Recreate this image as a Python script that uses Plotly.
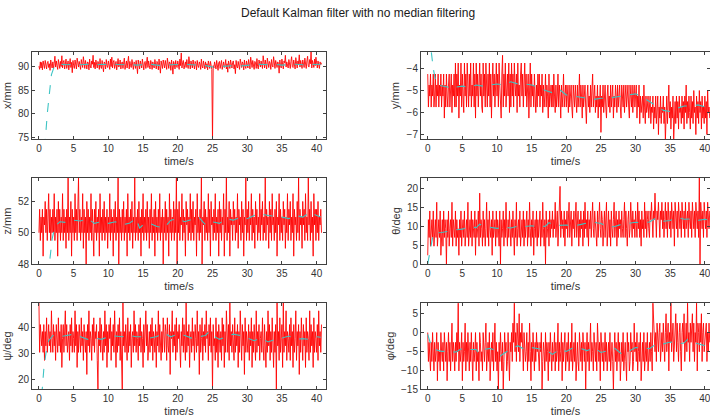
import numpy as np
import plotly.graph_objects as go

# ---- raw measurements, sampled every 0.1 s ----
DT = 0.1

x_raw = [
    90.1, 89.4, 91.0, 89.7, 90.9, 89.3, 91.2, 90.0, 89.6, 91.3, 90.4, 89.5, 90.8, 91.1, 89.8, 90.6, 89.2, 91.4, 90.3, 89.7,
    91.0, 89.5, 90.7, 92.2, 89.9, 91.2, 90.2, 89.4, 91.5, 90.6, 89.6, 91.1, 90.0, 92.3, 89.7, 90.9, 91.3, 89.5, 90.4, 91.6,
    89.6, 90.8, 91.2, 89.3, 90.5, 91.7, 89.8, 90.9, 88.7, 91.3, 90.2, 89.6, 91.4, 90.1, 89.5, 91.8, 90.6, 89.9, 91.1, 90.3,
    89.4, 91.5, 90.7, 89.8, 92.1, 90.2, 89.6, 91.3, 90.4, 89.5, 91.0, 90.8, 89.3, 91.6, 90.1, 89.7, 91.2, 90.5, 92.4, 89.8,
    90.9, 89.5, 91.4, 90.2, 89.7, 91.1, 90.6, 89.4, 91.7, 90.0, 89.6, 91.3, 90.4, 88.9, 91.0, 90.7, 89.5, 91.5, 90.2, 89.8,
    91.2, 90.4, 89.4, 91.6, 90.0, 92.0, 89.7, 90.9, 91.3, 89.6, 90.5, 91.1, 89.3, 90.8, 91.7, 89.9, 90.3, 91.4, 89.5, 90.7,
    91.0, 89.6, 90.4, 91.8, 89.4, 90.9, 91.2, 89.7, 90.6, 92.2, 89.5, 91.1, 90.2, 89.8, 91.5, 90.3, 89.4, 91.0, 90.8, 89.6,
    91.3, 90.1, 88.5, 91.4, 90.6, 89.5, 91.2, 90.0, 89.7, 91.6, 90.4, 89.3, 90.9, 91.1, 89.6, 90.5, 92.0, 89.8, 91.2, 90.2,
    89.5, 91.3, 90.7, 89.4, 91.0, 90.2, 89.7, 91.5, 90.4, 89.5, 91.1, 90.8, 89.3, 91.6, 90.0, 88.6, 91.2, 90.5, 89.6, 91.4,
    90.1, 89.7, 91.3, 90.4, 89.4, 91.8, 90.2, 89.6, 91.0, 90.7, 89.2, 91.4, 90.3, 88.4, 91.1, 90.6, 89.5, 91.3, 90.0, 89.8,
    91.2, 90.5, 89.4, 91.6, 90.2, 92.9, 89.7, 90.8, 91.3, 89.5, 90.6, 91.0, 89.8, 91.5, 90.3, 89.6, 92.1, 90.1, 89.5, 91.2,
    90.4, 89.7, 91.4, 90.0, 89.5, 91.1, 90.7, 89.3, 91.3, 90.2, 89.8, 91.0, 90.5, 89.4, 91.6, 90.1, 89.7, 91.2, 90.3, 89.5,
    91.0, 89.8, 90.6, 89.3, 91.2, 90.0, 89.6, 91.1, 90.4, 89.4, 74.4, 90.2, 89.7, 91.0, 90.3, 89.5, 91.3, 90.1, 89.2, 90.8,
    91.1, 89.6, 90.4, 91.3, 89.4, 90.7, 91.0, 89.8, 90.2, 91.5, 89.5, 90.6, 88.8, 91.2, 90.1, 89.6, 91.4, 90.3, 89.7, 90.9,
    91.2, 89.5, 90.4, 88.5, 91.3, 90.0, 89.7, 91.1, 90.5, 89.4, 91.6, 90.2, 89.8, 91.0, 90.6, 89.3, 91.4, 90.1, 89.6, 91.2,
    90.3, 89.7, 91.5, 90.4, 89.5, 92.0, 90.2, 89.8, 91.3, 90.6, 89.4, 91.1, 90.8, 89.6, 91.7, 90.0, 89.5, 91.4, 90.7, 89.9,
    91.2, 90.4, 89.6, 92.3, 90.1, 89.7, 91.4, 90.6, 89.5, 91.8, 90.2, 89.8, 91.1, 90.7, 89.4, 91.5, 90.3, 89.9, 92.1, 90.5,
    89.6, 91.3, 90.4, 89.8, 91.0, 90.6, 88.6, 91.4, 90.2, 89.7, 91.6, 90.5, 89.5, 91.2, 90.8, 92.4, 89.9, 91.0, 90.3, 89.7,
    91.5, 90.4, 89.6, 91.1, 92.1, 90.0, 89.8, 91.4, 90.7, 89.5, 91.9, 90.3, 89.7, 91.2, 90.6, 92.5, 89.9, 91.3, 90.2, 89.6,
    91.4, 90.7, 89.8, 91.8, 90.3, 89.6, 91.2, 92.2, 90.1, 89.9, 91.5, 90.6, 93.2, 89.7, 91.3, 90.4, 89.8, 91.6, 90.2, 92.0,
    90.5, 89.7, 91.2, 90.3, 89.6, 91.0, 90.4, 90.8,
]

y_raw = [
    -4.25, -5.75, -4.75, -5.25, -4.25, -5.75, -4.75, -5.25, -4.25, -5.75, -5.25, -4.25, -5.75, -4.75, -5.25, -4.25, -5.75, -4.75, -5.25, -4.25,
    -5.75, -4.75, -5.25, -4.25, -6.25, -4.75, -5.75, -4.25, -5.25, -5.75, -4.75, -4.25, -5.75, -5.25, -4.25, -6.0, -4.75, -5.25, -4.25, -5.75,
    -3.75, -5.75, -4.25, -5.25, -3.75, -6.25, -4.75, -5.25, -3.75, -5.75, -4.25, -5.25, -6.0, -3.75, -5.25, -4.25, -5.75, -3.75, -4.75, -5.75,
    -4.25, -5.25, -3.75, -5.75, -4.75, -5.25, -3.75, -5.75, -4.25, -6.25, -3.75, -5.25, -4.25, -5.75, -4.75, -3.75, -5.25, -4.25, -5.75, -6.0,
    -3.75, -5.25, -4.25, -5.75, -3.75, -4.75, -5.75, -4.25, -5.25, -3.75, -5.75, -4.25, -6.25, -4.75, -3.75, -5.25, -4.25, -5.75, -4.75, -3.75,
    -5.25, -4.25, -5.75, -3.75, -4.75, -5.25, -6.25, -4.25, -3.4, -5.75, -4.25, -5.25, -3.75, -5.75, -4.75, -4.25, -5.25, -3.75, -6.0, -4.25,
    -5.75, -3.75, -5.25, -4.25, -5.75, -3.75, -4.75, -5.25, -4.25, -6.0, -3.75, -5.25, -4.75, -5.75, -4.25, -3.75, -5.25, -4.25, -5.75, -4.75,
    -3.75, -5.25, -4.25, -5.75, -4.75, -4.25, -6.25, -5.25, -3.75, -5.75, -4.25, -5.25, -4.75, -5.75, -4.25, -5.25, -6.0, -4.75, -5.75, -4.25,
    -5.25, -4.25, -5.75, -4.75, -5.25, -4.25, -6.0, -4.75, -5.75, -5.25, -4.25, -5.75, -4.75, -5.25, -6.25, -4.25, -5.75, -5.25, -4.75, -5.75,
    -4.75, -5.75, -4.25, -5.25, -6.0, -4.75, -5.75, -5.25, -4.25, -5.75, -4.75, -5.25, -6.25, -4.75, -5.75, -5.25, -4.25, -5.75, -5.25, -4.75,
    -5.75, -4.75, -5.25, -6.0, -4.75, -5.75, -5.25, -4.75, -5.75, -6.25, -4.75, -5.25, -5.75, -4.75, -5.25, -6.0, -4.75, -5.75, -5.25, -4.25,
    -5.75, -4.75, -5.25, -6.25, -4.75, -5.75, -5.25, -4.75, -5.75, -6.5, -5.25, -4.75, -5.75, -5.25, -6.0, -4.75, -5.75, -5.25, -4.25, -5.75,
    -5.25, -4.75, -6.0, -5.25, -5.75, -4.75, -6.25, -5.25, -5.75, -4.75, -6.9, -5.25, -5.75, -4.75, -6.0, -5.25, -4.75, -5.75, -6.25, -5.25,
    -4.75, -5.75, -5.25, -6.0, -4.75, -5.75, -5.25, -4.75, -6.25, -5.25, -5.75, -4.75, -5.25, -6.0, -4.75, -5.75, -5.25, -4.75, -5.75, -6.25,
    -4.75, -5.25, -5.75, -4.75, -6.0, -5.25, -4.75, -5.75, -5.25, -4.75, -5.75, -6.25, -4.75, -5.25, -5.75, -4.75, -6.0, -5.25, -4.75, -5.75,
    -5.25, -4.75, -6.25, -5.25, -5.75, -4.75, -6.5, -5.25, -6.0, -5.75, -5.25, -6.25, -4.75, -5.75, -6.5, -5.25, -6.0, -5.75, -5.25, -6.25,
    -5.75, -5.25, -6.5, -5.75, -6.0, -5.25, -6.75, -5.75, -6.25, -5.25, -6.5, -5.75, -5.25, -7.0, -5.75, -6.25, -5.25, -6.5, -5.75, -6.0,
    -5.25, -6.5, -5.75, -7.25, -6.0, -5.25, -6.5, -5.75, -4.75, -6.25, -5.5, -6.75, -5.75, -6.25, -5.25, -7.25, -6.0, -5.5, -6.5, -5.25,
    -6.25, -5.5, -6.75, -5.25, -6.0, -5.75, -6.5, -5.25, -6.25, -5.5, -6.75, -5.25, -6.0, -4.75, -6.5, -5.5, -6.25, -5.25, -6.0, -6.75,
    -5.25, -6.25, -5.5, -6.5, -5.0, -6.0, -5.75, -7.0, -5.25, -6.25, -5.5, -6.5, -5.0, -6.0, -5.5, -6.75, -5.25, -6.25, -5.75, -6.5,
    -5.25, -6.25, -5.5, -7.0, -5.0, -6.0, -5.75, -6.25,
]

z_raw = [
    50.0, 51.5, 49.5, 51.0, 50.0, 51.5, 48.5, 51.0, 50.5, 52.0, 50.0, 51.5, 49.5, 51.0, 52.5, 50.0, 51.5, 49.5, 51.0, 50.0,
    51.5, 50.0, 52.5, 49.5, 51.0, 50.0, 51.5, 48.5, 52.0, 50.0, 51.5, 49.5, 51.0, 50.0, 52.5, 49.5, 51.5, 50.0, 51.0, 49.0,
    51.5, 50.0, 53.5, 49.5, 51.0, 50.0, 52.0, 48.5, 51.5, 50.0, 51.0, 49.5, 52.5, 50.0, 51.5, 49.5, 51.0, 53.5, 50.0, 51.5,
    49.5, 51.0, 50.0, 52.5, 49.0, 51.5, 50.0, 51.0, 48.0, 52.0, 50.0, 51.5, 49.5, 51.0, 50.0, 52.5, 49.5, 51.5, 50.0, 48.5,
    51.5, 50.0, 52.0, 49.5, 51.0, 50.0, 51.5, 48.5, 52.5, 50.0, 51.0, 49.5, 51.5, 50.0, 52.0, 49.5, 51.0, 50.0, 51.5, 49.0,
    51.0, 50.0, 52.5, 49.5, 51.5, 50.0, 51.0, 48.5, 51.5, 50.0, 52.0, 49.5, 51.0, 50.0, 53.5, 48.0, 51.5, 50.0, 51.0, 49.5,
    51.5, 50.0, 52.0, 49.5, 51.0, 50.0, 51.5, 48.5, 52.5, 50.0, 51.0, 49.5, 51.5, 50.0, 52.0, 49.0, 51.0, 50.0, 53.5, 49.5,
    51.0, 50.0, 51.5, 49.5, 52.0, 50.0, 51.0, 48.5, 51.5, 50.0, 52.5, 49.5, 51.0, 50.0, 51.5, 49.5, 52.0, 50.0, 51.0, 49.0,
    51.5, 50.0, 52.5, 49.5, 51.0, 50.0, 51.5, 48.5, 52.0, 50.0, 51.0, 49.5, 51.5, 50.0, 52.5, 49.5, 51.0, 50.0, 51.5, 48.0,
    51.0, 50.0, 52.0, 49.5, 51.5, 50.0, 51.0, 48.5, 52.5, 50.0, 51.5, 49.5, 51.0, 50.0, 52.0, 49.5, 51.5, 50.0, 53.5, 48.0,
    51.5, 50.0, 52.0, 49.5, 51.0, 50.5, 52.5, 49.5, 51.5, 50.0, 51.0, 48.5, 52.0, 50.5, 51.5, 49.5, 51.0, 50.0, 52.5, 49.5,
    51.5, 50.0, 52.0, 49.5, 51.0, 50.5, 51.5, 48.5, 52.5, 50.0, 51.0, 49.5, 51.5, 50.0, 53.5, 48.0, 51.0, 50.5, 52.0, 49.5,
    51.5, 50.0, 51.0, 49.5, 52.5, 50.0, 51.5, 48.5, 52.0, 50.5, 51.0, 49.5, 51.5, 50.0, 52.5, 49.5, 51.0, 50.0, 51.5, 48.5,
    52.0, 50.0, 51.5, 49.5, 51.0, 50.5, 52.5, 48.5, 51.5, 50.0, 53.5, 49.5, 51.0, 50.0, 52.0, 48.5, 51.5, 50.5, 51.0, 49.5,
    52.0, 50.5, 51.5, 49.5, 51.0, 50.0, 52.5, 49.0, 51.5, 50.5, 51.0, 49.5, 52.0, 50.0, 51.5, 48.5, 51.0, 50.5, 53.5, 49.5,
    51.5, 50.0, 52.0, 49.5, 51.0, 50.5, 52.5, 49.5, 51.5, 50.0, 51.0, 49.0, 52.0, 50.5, 51.5, 49.5, 51.0, 50.0, 52.5, 49.5,
    51.5, 50.5, 52.0, 49.5, 51.0, 50.0, 53.5, 49.5, 51.5, 50.5, 51.0, 49.0, 52.0, 50.0, 51.5, 49.5, 52.5, 50.5, 51.0, 49.5,
    51.5, 50.0, 52.0, 48.5, 51.0, 50.5, 52.5, 49.5, 51.5, 50.0, 51.0, 49.5, 52.0, 50.5, 51.5, 49.0, 51.0, 50.0, 52.5, 49.5,
    51.5, 50.5, 52.0, 49.5, 51.0, 50.0, 52.5, 48.5, 51.5, 50.5, 51.0, 49.5, 52.0, 50.0, 53.5, 49.5, 51.5, 50.5, 51.0, 49.0,
    52.0, 50.5, 51.5, 49.5, 52.5, 50.0, 51.0, 49.5, 53.5, 50.5, 51.5, 49.5, 52.0, 50.0, 51.0, 48.5, 52.5, 50.5, 51.5, 49.5,
    51.5, 50.0, 52.0, 49.5, 51.0, 50.5, 51.5, 50.0,
]

theta_raw = [
    2.3, 11.7, 7.0, 14.0, 4.7, 9.3, 11.7, 7.0, 14.0, 4.7, 9.3, 11.7, 7.0, 16.3, 4.7, 9.3, 11.7, 7.0, 14.0, 2.3,
    9.3, 11.7, 4.7, 14.0, 7.0, 11.7, 9.3, 0.0, 11.7, 7.0, 14.0, 4.7, 9.3, 11.7, 7.0, 16.3, 4.7, 11.7, 9.3, 7.0,
    14.0, 4.7, 11.7, 7.0, 9.3, 2.3, 11.7, 7.0, 14.0, 4.7, 9.3, 11.7, 7.0, 14.0, 4.7, 9.3, 11.7, 7.0, 16.3, 4.7,
    9.3, 11.7, 7.0, 14.0, 4.7, 11.7, 9.3, 7.0, 14.0, 2.3, 11.7, 7.0, 9.3, 14.0, 4.7, 18.7, 7.0, 11.7, 9.3, 4.7,
    14.0, 7.0, 11.7, 4.7, 9.3, 16.3, 7.0, 11.7, 4.7, 14.0, 9.3, 7.0, 11.7, 2.3, 14.0, 7.0, 9.3, 11.7, 4.7, 14.0,
    7.0, 11.7, 9.3, 4.7, 14.0, 0.0, 11.7, 7.0, 9.3, 14.0, 4.7, 11.7, 7.0, 16.3, 9.3, 4.7, 11.7, 7.0, 14.0, 9.3,
    4.7, 11.7, 7.0, 14.0, 9.3, 2.3, 11.7, 7.0, 16.3, 4.7, 9.3, 11.7, 7.0, 14.0, 4.7, 9.3, 11.7, 7.0, 14.0, 4.7,
    11.7, 7.0, 9.3, 14.0, 4.7, 11.7, 7.0, 16.3, 9.3, 4.7, 11.7, 7.0, 14.0, 2.3, 9.3, 11.7, 7.0, 14.0, 4.7, 11.7,
    7.0, 9.3, 14.0, 4.7, 11.7, 7.0, 16.3, 9.3, 4.7, 11.7, 0.0, 14.0, 7.0, 9.3, 11.7, 4.7, 14.0, 7.0, 11.7, 9.3,
    14.0, 7.0, 11.7, 9.3, 16.3, 7.0, 11.7, 14.0, 4.7, 9.3, 11.7, 20.5, 7.0, 14.0, 9.3, 11.7, 7.0, 14.0, 4.7, 11.7,
    9.3, 14.0, 7.0, 11.7, 16.3, 7.0, 9.3, 14.0, 4.7, 11.7, 9.3, 14.0, 7.0, 11.7, 16.3, 7.0, 9.3, 14.0, 4.7, 11.7,
    7.0, 14.0, 9.3, 11.7, 4.7, 14.0, 7.0, 16.3, 9.3, 11.7, 7.0, 14.0, 4.7, 11.7, 9.3, 14.0, 7.0, 11.7, 16.3, 9.3,
    7.0, 14.0, 11.7, 9.3, 4.7, 14.0, 7.0, 11.7, 16.3, 9.3, 7.0, 14.0, 11.7, 4.7, 9.3, 14.0, 7.0, 11.7, 16.3, 4.7,
    9.3, 14.0, 7.0, 11.7, 4.7, 14.0, 9.3, 7.0, 11.7, 16.3, 7.0, 9.3, 14.0, 4.7, 11.7, 7.0, 14.0, 9.3, 11.7, 7.0,
    14.0, 9.3, 7.0, 11.7, 16.3, 7.0, 14.0, 9.3, 4.7, 11.7, 14.0, 7.0, 9.3, 16.3, 11.7, 7.0, 14.0, 9.3, 11.7, 7.0,
    14.0, 11.7, 7.0, 16.3, 9.3, 14.0, 7.0, 11.7, 4.7, 14.0, 9.3, 11.7, 7.0, 16.3, 9.3, 14.0, 7.0, 11.7, 14.0, 9.3,
    7.0, 14.0, 11.7, 16.3, 9.3, 7.0, 14.0, 11.7, 18.7, 9.3, 7.0, 14.0, 11.7, 16.3, 9.3, 7.0, 14.0, 11.7, 16.3, 9.3,
    14.0, 7.0, 11.7, 16.3, 9.3, 14.0, 7.0, 16.3, 11.7, 9.3, 14.0, 7.0, 16.3, 11.7, 9.3, 14.0, 4.7, 16.3, 11.7, 9.3,
    14.0, 7.0, 16.3, 11.7, 9.3, 14.0, 7.0, 16.3, 11.7, 9.3, 14.0, 7.0, 16.3, 9.3, 11.7, 14.0, 7.0, 16.3, 11.7, 9.3,
    14.0, 7.0, 16.3, 11.7, 9.3, 14.0, 7.0, 16.3, 11.7, 9.3, 14.0, 7.0, 23.0, 0.0, 16.3, 11.7, 9.3, 14.0, 7.0, 16.3,
    11.7, 9.3, 14.0, 7.0, 16.3, 11.7, 9.3, 14.0,
]

psi_raw = [
    49.5, 30.5, 41.2, 35.8, 33.0, 38.5, 30.5, 41.2, 27.4, 38.5, 33.0, 43.8, 30.5, 35.8, 41.2, 33.0, 38.5, 30.5, 46.5, 35.8,
    30.5, 41.2, 33.0, 38.5, 27.4, 41.2, 35.8, 30.5, 43.8, 33.0, 38.5, 30.5, 41.2, 24.7, 35.8, 41.2, 30.5, 38.5, 46.5, 33.0,
    41.2, 30.5, 35.8, 38.5, 27.4, 41.2, 33.0, 43.8, 30.5, 38.5, 35.8, 30.5, 46.5, 33.0, 41.2, 24.7, 38.5, 30.5, 41.2, 35.8,
    30.5, 43.8, 33.0, 38.5, 27.4, 41.2, 35.8, 30.5, 38.5, 22.0, 41.2, 33.0, 46.5, 30.5, 38.5, 35.8, 27.4, 41.2, 33.0, 43.8,
    30.5, 38.5, 35.8, 41.2, 27.4, 16.4, 38.5, 33.0, 43.8, 30.5, 41.2, 35.8, 27.4, 38.5, 30.5, 46.5, 33.0, 41.2, 24.7, 38.5,
    30.5, 41.2, 35.8, 43.8, 27.4, 38.5, 33.0, 41.2, 30.5, 46.5, 35.8, 24.7, 38.5, 30.5, 41.2, 33.0, 43.8, 27.4, 38.5, 30.5,
    16.4, 49.5, 33.0, 38.5, 30.5, 41.2, 35.8, 27.4, 43.8, 30.5, 38.5, 33.0, 41.2, 24.7, 35.8, 38.5, 30.5, 46.5, 33.0, 41.2,
    30.5, 38.5, 35.8, 27.4, 41.2, 33.0, 43.8, 30.5, 38.5, 35.8, 24.7, 41.2, 30.5, 38.5, 46.5, 33.0, 41.2, 27.4, 35.8, 38.5,
    30.5, 41.2, 33.0, 43.8, 27.4, 38.5, 35.8, 30.5, 41.2, 24.7, 38.5, 33.0, 46.5, 30.5, 41.2, 35.8, 27.4, 38.5, 30.5, 43.8,
    35.8, 30.5, 41.2, 38.5, 27.4, 43.8, 33.0, 30.5, 41.2, 22.0, 38.5, 35.8, 46.5, 30.5, 38.5, 33.0, 41.2, 27.4, 43.8, 30.5,
    38.5, 35.8, 41.2, 30.5, 24.7, 38.5, 33.0, 43.8, 30.5, 41.2, 35.8, 27.4, 49.5, 30.5, 38.5, 33.0, 41.2, 24.7, 35.8, 38.5,
    30.5, 43.8, 33.0, 38.5, 27.4, 41.2, 35.8, 30.5, 46.5, 33.0, 38.5, 22.0, 41.2, 30.5, 35.8, 43.8, 27.4, 38.5, 33.0, 41.2,
    30.5, 46.5, 35.8, 38.5, 27.4, 41.2, 33.0, 43.8, 30.5, 38.5, 16.4, 41.2, 33.0, 35.8, 27.4, 43.8, 30.5, 38.5, 24.7, 41.2,
    35.8, 30.5, 38.5, 27.4, 43.8, 33.0, 41.2, 24.7, 38.5, 30.5, 46.5, 35.8, 30.5, 41.2, 27.4, 49.5, 33.0, 38.5, 30.5, 41.2,
    35.8, 27.4, 43.8, 30.5, 38.5, 33.0, 41.2, 24.7, 38.5, 30.5, 46.5, 35.8, 27.4, 41.2, 33.0, 38.5, 22.0, 43.8, 30.5, 38.5,
    35.8, 30.5, 41.2, 27.4, 38.5, 33.0, 43.8, 24.7, 38.5, 30.5, 41.2, 35.8, 27.4, 46.5, 30.5, 38.5, 33.0, 41.2, 27.4, 35.8,
    38.5, 30.5, 43.8, 33.0, 27.4, 41.2, 35.8, 24.7, 38.5, 30.5, 46.5, 33.0, 41.2, 27.4, 38.5, 30.5, 43.8, 35.8, 24.7, 38.5,
    30.5, 41.2, 16.4, 49.5, 33.0, 38.5, 27.4, 43.8, 30.5, 35.8, 41.2, 24.7, 49.5, 30.5, 38.5, 33.0, 46.5, 27.4, 38.5, 35.8,
    30.5, 41.2, 27.4, 43.8, 33.0, 38.5, 24.7, 41.2, 30.5, 35.8, 46.5, 27.4, 38.5, 33.0, 41.2, 22.0, 38.5, 30.5, 43.8, 35.8,
    27.4, 41.2, 33.0, 38.5, 24.7, 43.8, 30.5, 38.5, 35.8, 27.4, 46.5, 30.5, 41.2, 33.0, 38.5, 24.7, 43.8, 30.5, 38.5, 35.8,
    30.5, 41.2, 27.4, 46.5, 33.0, 38.5, 30.5, 41.2,
]

phi_raw = [
    0.0, -7.7, -2.6, -5.1, -10.2, -2.6, -7.7, 0.0, -5.1, -10.2, -2.6, -7.7, -5.1, 0.0, -12.8, -2.6, -7.7, -5.1, -10.2, 0.0,
    -5.1, -7.7, -2.6, -10.2, 0.0, -5.1, -7.7, -2.6, -12.8, -5.1, 0.0, -7.7, -2.6, -10.2, -5.1, 2.5, -7.7, -2.6, -5.1, -10.2,
    -2.6, -7.7, 0.0, -5.1, 7.8, -10.2, -2.6, -7.7, -5.1, 0.0, -12.8, -2.6, -7.7, -5.1, 2.5, -10.2, -2.6, -7.7, 0.0, -5.1,
    -10.2, -2.6, -7.7, 0.0, -5.1, -12.8, -2.6, -7.7, -5.1, 0.0, -10.2, -2.6, -7.7, -5.1, -12.8, 0.0, -2.6, -7.7, -5.1, -10.2,
    0.0, -5.1, -7.7, -2.6, 2.5, -10.2, -5.1, -2.6, -7.7, 0.0, -12.8, -5.1, -2.6, -7.7, 0.0, -10.2, -5.1, 2.5, -7.7, -2.6,
    -10.2, -5.1, -15.3, -2.6, -7.7, 0.0, -5.1, -10.2, -2.6, -15.3, -7.7, 0.0, -5.1, -2.6, -10.2, -7.7, 0.0, -5.1, -12.8, -2.6,
    -5.1, 0.0, -7.7, 2.5, -2.6, 7.8, -5.1, 0.0, -7.7, 2.5, -2.6, -5.1, 5.0, -7.7, 0.0, -2.6, 2.5, -5.1, -10.2, 0.0,
    -2.6, -7.7, -5.1, 0.0, -10.2, -2.6, -7.7, 2.5, -5.1, -12.8, -2.6, -7.7, 0.0, -5.1, -10.2, -2.6, -7.7, 0.0, -5.1, -2.6,
    -7.7, -10.2, -2.6, -5.1, 0.0, -15.3, -7.7, -2.6, -5.1, -10.2, 0.0, -7.7, -2.6, -5.1, -12.8, -2.6, -7.7, 0.0, -5.1, -10.2,
    -2.6, -7.7, -5.1, 0.0, -10.2, -2.6, -7.7, -5.1, 2.5, -10.2, -2.6, -7.7, -5.1, 0.0, -12.8, -2.6, -7.7, -5.1, 0.0, -10.2,
    -5.1, -2.6, -7.7, 0.0, -10.2, -5.1, -2.6, -7.7, 2.5, -10.2, -5.1, -2.6, -7.7, 0.0, -12.8, -5.1, -2.6, -7.7, -10.2, 0.0,
    -5.1, -7.7, -2.6, -10.2, 0.0, -5.1, -7.7, -2.6, -15.3, -5.1, 0.0, -7.7, -2.6, -10.2, -5.1, 2.5, -7.7, -2.6, -5.1, -10.2,
    0.0, -5.1, -7.7, -2.6, -10.2, 2.5, -5.1, -7.7, -2.6, -12.8, 0.0, -5.1, -7.7, -2.6, -10.2, -5.1, 0.0, -7.7, -2.6, -10.2,
    -5.1, -2.6, -7.7, 0.0, -10.2, -5.1, -2.6, -7.7, -15.3, -5.1, 0.0, -7.7, -2.6, -10.2, -5.1, 0.0, -7.7, -2.6, -12.8, -5.1,
    -2.6, -7.7, 0.0, -10.2, -5.1, -2.6, -7.7, -12.8, 0.0, -5.1, -2.6, -10.2, -7.7, 0.0, -5.1, -2.6, -10.2, -7.7, 2.5, -5.1,
    -2.6, -7.7, 0.0, -10.2, -5.1, -2.6, -7.7, 0.0, -12.8, -5.1, -2.6, -7.7, 0.0, -10.2, -5.1, -2.6, -7.7, 0.0, -10.2, -5.1,
    -2.6, -7.7, 0.0, -5.1, -10.2, 7.8, 2.5, -2.6, -5.1, 0.0, -7.7, 2.5, -2.6, -5.1, 0.0, 2.5, -7.7, -2.6, 0.0, -5.1,
    2.5, -2.6, -7.7, 0.0, 5.0, -5.1, -2.6, 2.5, -10.2, 0.0, -2.6, 7.8, -5.1, 0.0, 2.5, -7.7, -2.6, 0.0, 5.0, -5.1,
    2.5, -2.6, -7.7, 0.0, 2.5, -5.1, -10.2, 0.0, 2.5, -2.6, 5.0, -7.7, 0.0, 2.5, -5.1, 7.8, -2.6, 0.0, -7.7, 2.5,
    -2.6, 0.0, 5.0, -5.1, 2.5, -7.7, 0.0, -2.6, 7.8, -10.2, 2.5, 0.0, -5.1, 2.5, -2.6, 5.0, -7.7, 0.0, 2.5, -5.1,
    -2.6, 0.0, 2.5, -7.7, 0.0, -5.1, 2.5, -2.6,
]

# ---- Kalman filter estimates ----
x_kf_t = [0, 0.5, 0.9, 1.2, 1.5, 1.8, 2.2, 2.6, 3, 4, 5, 6, 7, 8, 9, 10, 11, 12, 13, 14, 15, 16, 17, 18, 19, 20,
          21, 22, 23, 24, 25, 26, 27, 28, 29, 30, 31, 32, 33, 34, 35, 36, 37, 38, 39, 40, 40.6]
x_kf = [0, 45, 74, 80, 85, 88.3, 90.0, 90.4, 90.5, 90.4, 90.5, 90.4, 90.5, 90.3, 90.5, 90.4, 90.5, 90.4, 90.5,
        90.3, 90.4, 90.5, 90.3, 90.2, 90.4, 90.5, 90.5, 90.4, 90.3, 90.2, 89.9, 90.0, 90.1, 90.2, 90.1, 90.3,
        90.4, 90.5, 90.4, 90.5, 90.3, 90.4, 90.5, 90.4, 90.5, 90.6, 90.5]

y_kf_t = [0, 0.3, 0.5, 0.8, 1.1, 1.4, 2, 3, 3.5, 4, 5, 6, 7, 8, 9, 10, 11, 12, 13, 14, 15, 16, 17, 18, 19, 20,
          21, 22, 23, 24, 25, 26, 27, 28, 29, 30, 31, 32, 33, 34, 35, 36, 37, 38, 39, 40, 40.6]
y_kf = [0, -2.2, -3.2, -4.0, -4.5, -4.75, -4.8, -4.85, -4.95, -4.85, -4.8, -4.85, -4.75, -4.8, -4.75, -4.7,
        -4.75, -4.6, -4.7, -4.7, -4.75, -4.85, -5.0, -5.1, -4.95, -5.2, -5.25, -5.3, -5.35, -5.4, -5.35,
        -5.35, -5.3, -5.25, -5.2, -5.15, -5.3, -5.5, -5.7, -5.9, -5.95, -5.8, -5.7, -5.7, -5.65, -5.75, -5.8]

z_kf_t = [0, 0.8, 1.2, 1.5, 1.9, 2.3, 3, 4, 5, 6, 7, 8, 9, 10, 11, 12, 13, 14, 14.5, 15, 16, 17, 18, 19, 20,
          21, 22, 23, 24, 25, 26, 27, 28, 29, 30, 31, 32, 33, 34, 35, 36, 37, 38, 39, 40, 40.6]
z_kf = [0, 35, 45, 48, 49.6, 50.4, 50.7, 50.65, 50.8, 50.75, 50.9, 50.6, 50.7, 50.6, 50.7, 50.5, 50.6, 50.9,
        50.3, 50.5, 50.6, 50.4, 50.3, 50.8, 50.9, 50.7, 50.85, 51.0, 50.5, 50.7, 50.6, 50.9, 50.8, 51.0,
        50.9, 51.1, 51.2, 51.1, 51.05, 51.0, 50.9, 51.1, 51.0, 51.3, 51.1, 51.0]

theta_kf_t = [0, 0.2, 0.5, 0.8, 1, 2, 3, 4, 5, 6, 7, 7.5, 8, 9, 10, 11, 12, 13, 14, 15, 16, 17, 17.5, 18, 19,
              20, 21, 22, 23, 24, 25, 26, 27, 28, 29, 30, 31, 32, 33, 34, 35, 36, 37, 38, 39, 40, 40.6]
theta_kf = [0.0, 2.5, 5.0, 7.8, 8.2, 8.3, 8.7, 9.0, 9.2, 9.8, 9.6, 10.5, 10.0, 9.7, 9.4, 9.7, 9.5, 10.0, 9.9,
            10.1, 9.8, 10.0, 10.9, 10.5, 10.2, 10.3, 10.0, 10.4, 10.8, 11.0, 10.7, 9.7, 9.9, 10.5, 10.8, 11.0,
            10.9, 11.1, 12.2, 11.3, 11.5, 12.3, 11.8, 11.9, 11.5, 11.8, 11.6]

psi_kf_t = [0, 0.3, 0.45, 0.7, 1.0, 1.4, 2, 3, 4, 5, 6, 7, 8, 9, 10, 11, 12, 13, 14, 15, 16, 17, 18, 19, 20,
            21, 22, 23, 24, 24.5, 25, 26, 27, 28, 29, 30, 31, 32, 33, 34, 35, 36, 37, 38, 39, 40, 40.6]
psi_kf = [0, 12, 17, 24, 30, 35, 37, 36.5, 37, 37.5, 36.5, 35.5, 36, 35.5, 36.5, 36.8, 36.5, 37, 36.5, 36.5,
          36, 36.6, 38, 36.5, 37.5, 37, 36, 36.5, 37, 38.5, 37, 35.5, 36.5, 37.5, 37, 36, 35, 36, 34.5, 35.5,
          36, 36.8, 35.5, 35.8, 35.5, 36.5, 36.3]

phi_kf_t = [0, 0.2, 0.5, 1, 2, 3, 4, 5, 6, 7, 7.3, 8, 9, 10, 10.5, 11, 12, 13, 14, 15, 16, 17, 18, 19, 20,
            21, 22, 23, 24, 25, 26, 27, 28, 29, 30, 31, 32, 33, 34, 35, 36, 37, 37.5, 38, 39, 40, 40.6]
phi_kf = [-0.5, -2.0, -3.5, -4.5, -5.0, -5.0, -5.2, -4.2, -4.5, -4.5, -5.5, -4.5, -4.2, -5.0, -6.2, -5.5,
          -4.5, -3.5, -4.5, -4.0, -4.3, -4.5, -5.8, -4.5, -5.0, -4.0, -4.2, -4.8, -4.0, -5.3, -4.8, -4.2,
          -5.7, -5.0, -4.0, -4.0, -4.3, -3.0, -3.0, -2.5, -3.0, -2.8, -1.8, -2.5, -3.0, -3.5, -3.3]

panels = [
    # (raw, kf_t, kf, y label, y range, y ticks)
    (x_raw, x_kf_t, x_kf, "x/mm", [74.6, 93.1], [75, 80, 85, 90]),
    (y_raw, y_kf_t, y_kf, "y/mm", [-7.2, -3.25], [-7, -6, -5, -4]),
    (z_raw, z_kf_t, z_kf, "z/mm", [48, 53.5], [48, 50, 52]),
    (theta_raw, theta_kf_t, theta_kf, "θ/deg", [0, 22.7], [0, 5, 10, 15, 20]),
    (psi_raw, psi_kf_t, psi_kf, "ψ/deg", [16.4, 49.5], [20, 30, 40]),
    (phi_raw, phi_kf_t, phi_kf, "φ/deg", [-15, 7.85], [-15, -10, -5, 0, 5]),
]

W, H = 710, 417
col_px = [(32, 326), (421, 710)]
col_xrange = [[-1.0, 41.35], [-0.97, 40.74]]
row_px = [(52, 139), (178, 264), (303, 389)]

FONT = "Liberation Sans, Arial, Helvetica, sans-serif"
AX = "#404040"

fig = go.Figure()
layout = dict(
    width=W, height=H,
    margin=dict(l=0, r=0, t=0, b=0),
    paper_bgcolor="white", plot_bgcolor="white",
    showlegend=False,
    font=dict(family=FONT, size=10, color="#262626"),
)

for i, (raw, kt, kv, ylab, yr, yt) in enumerate(panels):
    r, c = divmod(i, 2)
    n = i + 1
    xa = "xaxis" if n == 1 else f"xaxis{n}"
    ya = "yaxis" if n == 1 else f"yaxis{n}"
    xref = "x" if n == 1 else f"x{n}"
    yref = "y" if n == 1 else f"y{n}"
    t_raw = np.arange(len(raw)) * DT

    fig.add_trace(go.Scatter(x=t_raw, y=raw, mode="lines",
                             line=dict(color="rgba(255,0,0,0.88)", width=1),
                             xaxis=xref, yaxis=yref, hoverinfo="skip"))
    fig.add_trace(go.Scatter(x=kt, y=kv, mode="lines",
                             line=dict(color="#3EC4C4", width=1.1, dash="dash"),
                             xaxis=xref, yaxis=yref, hoverinfo="skip"))

    x0, x1 = col_px[c]
    top, bot = row_px[r]
    common = dict(showline=True, linecolor=AX, linewidth=1, mirror="ticks",
                  ticks="inside", ticklen=3, tickcolor=AX, showgrid=False,
                  zeroline=False, automargin=False, ticklabeloverflow="allow",
                  tickfont=dict(family=FONT, size=10, color="#333333"))
    layout[xa] = dict(domain=[x0 / W, min(x1 / W, 1.0)], range=col_xrange[c],
                      tickvals=list(range(0, 41, 5)), anchor=yref,
                      title=dict(text="time/s", font=dict(family=FONT, size=11, color="#333333"), standoff=4),
                      **common)
    layout[ya] = dict(domain=[1 - bot / H, 1 - top / H], range=yr, tickvals=yt, anchor=xref,
                      title=dict(text=ylab, font=dict(family=FONT, size=11, color="#333333"), standoff=4),
                      **common)

layout["annotations"] = [dict(
    text="Default Kalman filter with no median filtering", x=358 / W, y=1 - 13 / H,
    xref="paper", yref="paper", showarrow=False, xanchor="center", yanchor="middle",
    font=dict(family=FONT, size=12, color="#1a1a1a"))]

fig.update_layout(**layout)
fig.write_html("out.html")
